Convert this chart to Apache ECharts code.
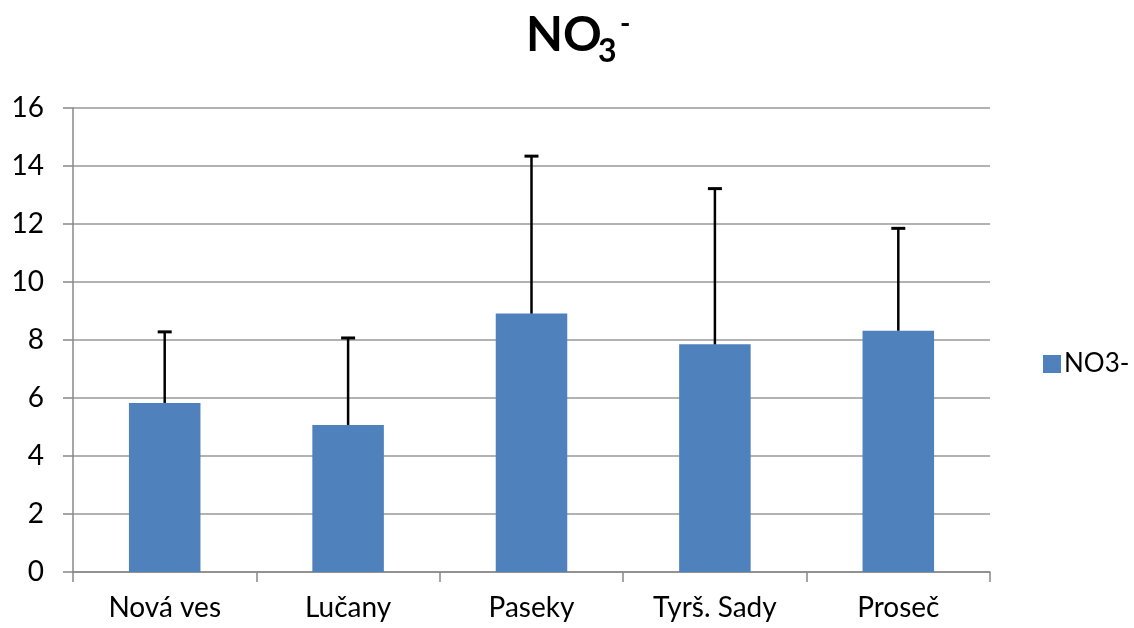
<!DOCTYPE html>
<html><head><meta charset="utf-8">
<script src="https://cdn.jsdelivr.net/npm/echarts@6/dist/echarts.min.js"></script>
<style>html,body{margin:0;padding:0;background:#fff}#c{width:1134px;height:628px}</style>
</head><body><div id="c"></div>
<script>
const categories = ['Nová ves', 'Lučany', 'Paseky', 'Tyrš. Sady', 'Proseč'];
const values = [5.83, 5.07, 8.91, 7.85, 8.32];
const upper = [8.28, 8.07, 14.34, 13.22, 11.85];
const seriesName = 'NO3-';
const yTicks = [0, 2, 4, 6, 8, 10, 12, 14, 16];

const chart = echarts.init(document.getElementById('c'), null, {renderer: 'canvas'});
const font = 'Lato, "Liberation Sans", sans-serif';
chart.setOption({
  animation: false,
  backgroundColor: '#ffffff',
  graphic: [
    {type: 'text', x: 526, y: 36, style: {text: 'NO', font: 'bold 48px ' + font, fill: '#000', verticalAlign: 'middle'}},
    {type: 'text', x: 598, y: 52, style: {text: '3', font: 'bold 32px ' + font, fill: '#000', verticalAlign: 'middle'}},
    {type: 'text', x: 620, y: 24, style: {text: '-', font: 'bold 28px ' + font, fill: '#000', verticalAlign: 'middle'}}
  ],
  legend: {
    data: [seriesName], top: 346,
    left: 1038, itemWidth: 18, itemHeight: 18, itemGap: 6,
    icon: 'rect',
    textStyle: {fontFamily: font, fontSize: 26, color: '#000', padding: [0, 0, 0, -2]}
  },
  grid: {left: 73, right: 144, top: 108, bottom: 56, containLabel: false},
  xAxis: {
    type: 'category', data: categories,
    axisLine: {lineStyle: {color: '#888', width: 1.5}},
    axisTick: {show: true, length: 10, lineStyle: {color: '#888', width: 1.5}},
    axisLabel: {fontFamily: font, fontSize: 28, color: '#000', margin: 22}
  },
  yAxis: {
    type: 'value', min: 0, max: 16, interval: 2,
    axisLine: {show: true, lineStyle: {color: '#888', width: 1.5}},
    axisTick: {show: true, length: 10, lineStyle: {color: '#888', width: 1.5}},
    axisLabel: {fontFamily: font, fontSize: 28, color: '#000', margin: 29,
      formatter: v => yTicks.includes(v) ? String(v) : ''},
    splitLine: {lineStyle: {color: '#999', width: 1.5}}
  },
  series: [
    {
      name: seriesName, type: 'bar', data: values, barWidth: '39%',
      itemStyle: {color: '#4F81BD'}, z: 2
    },
    {
      name: 'err', type: 'custom', z: 3,
      data: values.map((v, i) => [i, v, upper[i]]),
      renderItem: function (params, api) {
        const lo = api.coord([api.value(0), api.value(1)]);
        const hi = api.coord([api.value(0), api.value(2)]);
        const hw = 7;
        return {
          type: 'group',
          children: [
            {type: 'line', shape: {x1: lo[0], y1: lo[1], x2: hi[0], y2: hi[1]}, style: {stroke: '#000', lineWidth: 2.5}},
            {type: 'line', shape: {x1: hi[0] - hw, y1: hi[1], x2: hi[0] + hw, y2: hi[1]}, style: {stroke: '#000', lineWidth: 3}}
          ]
        };
      },
      encode: {x: 0, y: [1, 2]}
    }
  ]
});
</script></body></html>
